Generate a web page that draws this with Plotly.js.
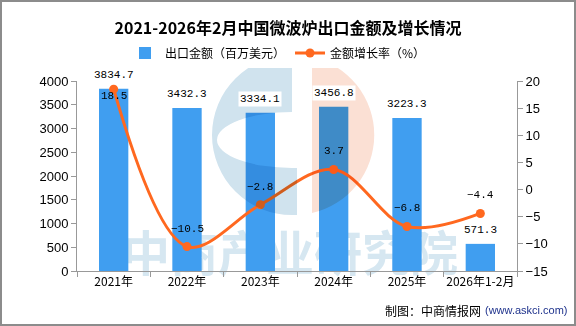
<!DOCTYPE html>
<html>
<head>
<meta charset="utf-8">
<script src="https://cdn.plot.ly/plotly-3.0.1.min.js"></script>
<style>
html,body{margin:0;padding:0;background:#fff;}
#chart{width:576px;height:326px;}
</style>
</head>
<body>
<div id="chart"></div>
<script>
// ---- data ----
const categories = ["2021年", "2022年", "2023年", "2024年", "2025年", "2026年1-2月"];
const exportValue = [3834.7, 3432.3, 3334.1, 3456.8, 3223.3, 571.3];
const growthRate = [18.5, -10.5, -2.8, 3.7, -6.8, -4.4];
const barName = "出口金额（百万美元）";
const lineName = "金额增长率（%）";
const titleText = "2021-2026年2月中国微波炉出口金额及增长情况";
const sourceText = "制图：中商情报网";
const sourceUrl = "(www.askci.com)";
const watermarkText = "中商产业研究院";

// ---- layout geometry (pixels) ----
const W = 576, H = 326, L = 77, R = 517, T = 81, B = 271;
const px = x => (x - L) / (R - L);
const py = y => (B - y) / (B - T);

const barColor = "rgb(64,158,240)";
const lineColor = "rgb(255,104,31)";
const monoFont = "Liberation Mono, DejaVu Sans Mono, monospace";
const cjkFont = "Noto Sans CJK SC, sans-serif";

const fmt = v => (v < 0 ? "\u2212" + Math.abs(v).toFixed(1) : v.toFixed(1));

const traces = [
  {
    type: "bar",
    name: barName,
    x: categories,
    y: exportValue,
    marker: {color: barColor},
    yaxis: "y",
    hoverinfo: "skip"
  },
  {
    type: "scatter",
    mode: "lines+markers",
    name: lineName,
    x: categories,
    y: growthRate,
    yaxis: "y2",
    line: {color: lineColor, width: 3, shape: "spline", smoothing: 1},
    marker: {color: lineColor, size: 9},
    hoverinfo: "skip"
  }
];

const annotations = [];
categories.forEach((c, i) => {
  annotations.push({
    x: c, y: exportValue[i], xref: "x", yref: "y",
    text: exportValue[i].toFixed(1), showarrow: false,
    yanchor: "bottom", yshift: 6, bgcolor: "#ffffff", borderpad: 1,
    font: {family: monoFont, size: 11, color: "#000"}
  });
  const below = i === 0;
  annotations.push({
    x: c, y: growthRate[i], xref: "x", yref: "y2",
    text: fmt(growthRate[i]), showarrow: false,
    yanchor: below ? "top" : "bottom", yshift: below ? 1 : 10,
    font: {family: monoFont, size: 11, color: "#000"}
  });
});
annotations.push({
  xref: "paper", yref: "paper", x: px(483), y: py(310),
  xanchor: "right", yanchor: "middle", showarrow: false,
  text: sourceText, font: {family: cjkFont, size: 12, color: "#000"}
});
annotations.push({
  xref: "paper", yref: "paper", x: px(483), y: py(310),
  xanchor: "left", yanchor: "middle", showarrow: false,
  text: sourceUrl, font: {family: "Liberation Sans, Arial, sans-serif", size: 11, color: "rgb(30,50,140)"}
});

const logoSvg =
  "<svg xmlns='http://www.w3.org/2000/svg' width='576' height='326' viewBox='0 0 576 326'>" +
  "<path d='M292,55 A80,80 0 0 0 292,215 L297,215 L297,168 L292,168 A75,28 0 0 1 292,112 Z' fill='rgb(208,227,238)'/>" +
  "<path d='M312,57 A80,80 0 0 1 312,213 Z' fill='rgb(251,224,212)'/>" +
  "</svg>";
const textSvg =
  "<svg xmlns='http://www.w3.org/2000/svg' width='576' height='326' viewBox='0 0 576 326'>" +
  "<text x='290' y='271' text-anchor='middle' font-family='Noto Sans CJK SC' font-weight='bold' font-size='48' fill='rgb(214,231,241)'>" + watermarkText + "</text>" +
  "</svg>";
const toSrc = s => "data:image/svg+xml;charset=utf-8," + encodeURIComponent(s);
const fullImg = (src, layer) => ({
  source: toSrc(src), xref: "paper", yref: "paper",
  x: px(0), y: py(0), sizex: W / (R - L), sizey: H / (B - T),
  xanchor: "left", yanchor: "top", sizing: "stretch", layer: layer, opacity: 1
});

const layout = {
  width: W, height: H,
  margin: {l: L, r: W - R, t: T, b: H - B, pad: 0},
  paper_bgcolor: "#ffffff",
  plot_bgcolor: "rgba(0,0,0,0)",
  title: {
    text: titleText, x: 0.5, xref: "container", xanchor: "center",
    y: 1 - 28 / H, yref: "container", yanchor: "middle",
    font: {family: cjkFont, size: 16, color: "#000", weight: 700}
  },
  showlegend: true,
  legend: {
    orientation: "h", x: px(125), xanchor: "left", y: py(53), yanchor: "middle",
    font: {family: cjkFont, size: 12, color: "#000"},
    bgcolor: "#ffffff", traceorder: "normal"
  },
  bargap: 0.6,
  xaxis: {
    type: "category",
    showgrid: false, zeroline: false,
    showline: true, linecolor: "#999", linewidth: 1,
    ticks: "outside", tickson: "boundaries", ticklen: 5, tickcolor: "#999",
    tickangle: 0,
    tickfont: {family: cjkFont, size: 12, color: "#000"},
    fixedrange: true
  },
  yaxis: {
    range: [0, 4000], dtick: 500, tick0: 0,
    showgrid: false, zeroline: false,
    showline: true, linecolor: "#999", linewidth: 1,
    ticks: "outside", ticklen: 5, tickcolor: "#999",
    tickfont: {family: "Liberation Sans, Arial, sans-serif", size: 13, color: "#000"},
    fixedrange: true
  },
  yaxis2: {
    range: [-15, 20], dtick: 5, tick0: 0,
    overlaying: "y", side: "right",
    showgrid: false, zeroline: false,
    showline: true, linecolor: "#999", linewidth: 1,
    ticks: "outside", ticklen: 5, tickcolor: "#999",
    tickfont: {family: "Liberation Sans, Arial, sans-serif", size: 13, color: "#000"},
    fixedrange: true
  },
  images: [fullImg(textSvg, "below"), fullImg(logoSvg, "above")],
  shapes: [{
    type: "rect", xref: "paper", yref: "paper",
    x0: px(1), x1: px(575), y0: py(1), y1: py(325),
    line: {color: "#8c8c8c", width: 2}, fillcolor: "rgba(0,0,0,0)", layer: "above"
  }],
  annotations: annotations
};

Plotly.newPlot("chart", traces, layout, {displayModeBar: false, staticPlot: true}).then(() => {
  document.querySelectorAll("#chart .layer-above image").forEach(el => {
    el.style.mixBlendMode = "multiply";
  });
});
</script>
</body>
</html>
